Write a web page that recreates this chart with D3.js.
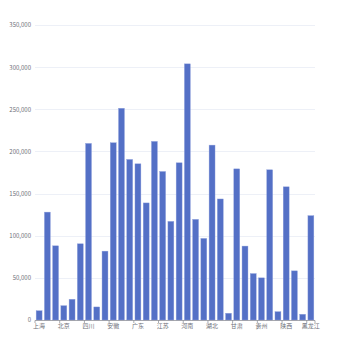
<!DOCTYPE html>
<html><head><meta charset="utf-8">
<script src="https://cdn.jsdelivr.net/npm/d3@7"></script>
<style>body{margin:0;background:#fff}svg{display:block}</style>
</head><body>
<svg id="c" width="350" height="350"></svg>
<script>
const categories = ["上海","云南","内蒙古","北京","台湾","吉林","四川","天津","宁夏","安徽","山东","山西","广东","广西","新疆","江苏","江西","河北","河南","浙江","海南","湖北","湖南","澳门","甘肃","福建","西藏","贵州","辽宁","重庆","陕西","青海","香港","黑龙江"];
const values = [11000,128000,88000,17000,24600,90400,209500,15500,81700,210300,251200,190500,185300,138900,211900,176200,117000,186500,303900,119400,96800,207500,143600,8000,179300,87700,55100,50000,178200,9900,158000,58300,6800,123800];
const yTicks = [0,50000,100000,150000,200000,250000,300000,350000];

const svg = d3.select("#c");
const m = {left:35, right:35, top:25, bottom:30};
const W = 350, H = 350;
const x = d3.scaleBand().domain(categories).range([m.left, W - m.right]).paddingInner(0.28).paddingOuter(0.14);
const y = d3.scaleLinear().domain([0, 350000]).range([H - m.bottom, m.top]);
const fmt = d3.format(",");

// grid
svg.append("g").selectAll("line").data(yTicks.slice(1)).join("line")
  .attr("x1", m.left).attr("x2", W - m.right)
  .attr("y1", d => Math.round(y(d)) + 0.5).attr("y2", d => Math.round(y(d)) + 0.5)
  .attr("stroke", "#E0E6F1").attr("stroke-width", 0.6);

// y axis labels
const ya = svg.append("g").attr("transform", `translate(${m.left},0)`)
  .call(d3.axisLeft(y).tickValues(yTicks).tickFormat(fmt).tickSize(0).tickPadding(4));
ya.select(".domain").remove();
ya.selectAll("text").attr("fill", "#6E7079").attr("font-size", 6).attr("font-family", "'Noto Sans CJK SC', sans-serif");

// bars
svg.append("g").selectAll("rect").data(values).join("rect")
  .attr("x", (d, i) => x(categories[i]))
  .attr("width", x.bandwidth())
  .attr("y", d => y(d))
  .attr("height", d => y(0) - y(d))
  .attr("fill", "#5470c6")
  .attr("stroke", "#8fa0dc").attr("stroke-width", 0.4);

// x axis
const step = (W - m.left - m.right) / categories.length;
const xa = svg.append("g").attr("transform", `translate(0,${H - m.bottom})`);
xa.append("line").attr("x1", m.left).attr("x2", W - m.right).attr("y1", 0.5).attr("y2", 0.5)
  .attr("stroke", "#6E7079").attr("stroke-width", 0.6);
const tickIdx = d3.range(0, categories.length + 1, 3).concat([categories.length]);
xa.selectAll("line.t").data(Array.from(new Set(tickIdx))).join("line").attr("class", "t")
  .attr("x1", i => m.left + i * step).attr("x2", i => m.left + i * step)
  .attr("y1", 0.5).attr("y2", 3)
  .attr("stroke", "#6E7079").attr("stroke-width", 0.6);
xa.selectAll("text").data(categories.filter((c, i) => i % 3 === 0)).join("text")
  .attr("x", c => x(c) + x.bandwidth() / 2)
  .attr("y", 8)
  .attr("text-anchor", "middle")
  .attr("fill", "#6E7079").attr("font-size", 6)
  .attr("font-family", "'Noto Sans CJK SC', sans-serif")
  .text(c => c);
</script>
</body></html>
